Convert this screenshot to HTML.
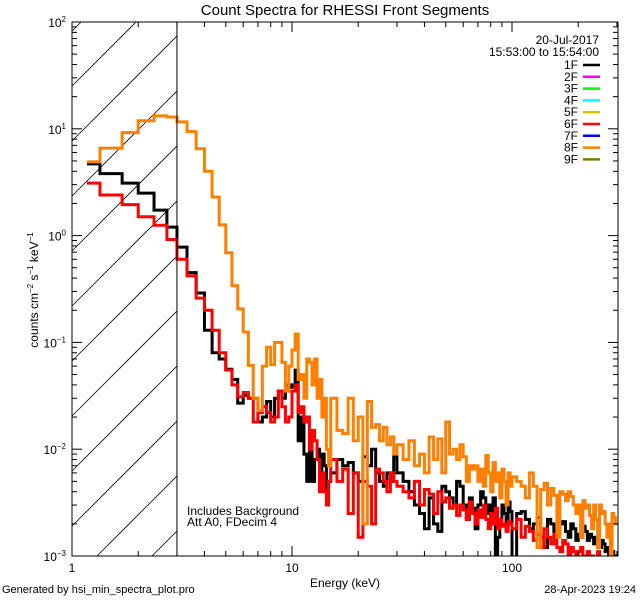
<!DOCTYPE html>
<html><head><meta charset="utf-8">
<style>
html,body{margin:0;padding:0;background:#fff;width:640px;height:600px;overflow:hidden;}
svg{display:block;font-family:"Liberation Sans",sans-serif;overflow:hidden;}
</style></head>
<body>
<svg id="chart" width="640" height="600" viewBox="0 0 640 600" xmlns="http://www.w3.org/2000/svg">
<rect x="0" y="0" width="640" height="600" fill="#fff"/>
<text x="345" y="15" font-size="15" text-anchor="middle">Count Spectra for RHESSI Front Segments</text>
<g id="hatch"></g>
<g id="series"></g>
<g id="axes"></g>
<text x="187" y="515" font-size="12">Includes Background</text>
<text x="187" y="526" font-size="12">Att A0, FDecim 4</text>
<text x="599" y="44" font-size="12" text-anchor="end">20-Jul-2017</text>
<text x="599" y="56" font-size="12" text-anchor="end">15:53:00 to 15:54:00</text>
<g id="legend"></g>
<text x="345" y="587" font-size="12" text-anchor="middle">Energy (keV)</text>
<text transform="translate(38,290) rotate(-90)" font-size="12" text-anchor="middle">counts cm<tspan font-size="8" dy="-5">−2</tspan><tspan dy="5"> s</tspan><tspan font-size="8" dy="-5">−1</tspan><tspan dy="5"> keV</tspan><tspan font-size="8" dy="-5">−1</tspan></text>
<text x="2" y="593" font-size="11">Generated by hsi_min_spectra_plot.pro</text>
<text x="636" y="593" font-size="11" text-anchor="end">28-Apr-2023 19:24</text>
</svg>
<script>
const lowEdges=[1.17,1.34,1.69,2.0,2.36,2.7,3.0];
const blackVals=[4.7,3.8,3.1,2.5,1.73,1.2,
0.78,0.45,0.29,0.13,0.08,0.07,0.056,0.045,0.027,0.032,0.03,0.03,0.018,0.02,0.028,0.02,0.03,0.035,0.03,0.04,0.038,
0.04,0.055,0.012,0.02,0.009,0.005,
0.012,0.005,0.008,0.01,0.006,0.009,0.007,0.004,0.005,
0.006,0.008,0.007,0.0075,0.006,0.005,0.0085,0.007,0.01,0.006,0.005,0.0045,0.006,0.005,0.0085,
0.006,0.005,0.004,0.003,0.0025,0.0018,0.0035,0.002,0.0017,0.0045,0.004,0.0035,0.003,0.005,0.0045,0.003,0.0022,0.0035,0.0028,0.0018,0.003,0.004,0.0035,0.0025,0.003,0.002,0.0035,0.0008,0.0015,0.0022,0.003,0.0025,0.0018,0.0032,0.0026,
0.0008,0.0025,0.0026,0.0022,0.0018,0.002,0.0023,0.0015,0.0012,0.0022,0.002,0.0017,0.0016,0.002,0.0021,0.0017,0.0015,0.002,0.0018,0.0014,0.0016,0.0015,0.0019,0.0017,0.0014,0.0016,0.0015,0.0013,0.0015,0.0014,0.0012,0.0014,0.0013,0.0011,0.0012,0.001,0.0009,0.0011,0.001,0.0008];
const redVals=[3.1,2.4,1.95,1.5,1.25,0.92,
0.6,0.42,0.26,0.2,0.13,0.08,0.055,0.04,0.031,0.034,0.03,0.018,0.022,0.025,0.022,0.018,0.02,0.035,0.025,0.018,0.02,0.035,0.04,0.022,0.025,0.018,0.02,0.01,0.015,0.012,0.008,0.004,0.006,0.004,0.003,0.005,
0.008,0.005,0.0065,0.0025,0.006,0.0015,0.005,0.0045,0.002,0.0065,0.006,0.005,0.004,0.006,0.005,
0.0045,0.004,0.0035,0.005,0.003,0.0042,0.0038,0.0025,0.004,0.0032,0.0035,0.0028,0.003,0.0024,0.003,0.0027,0.0022,0.0032,0.0025,0.002,0.0027,0.0023,0.003,0.0022,0.0018,0.0025,0.002,0.0028,0.0018,0.0022,0.0019,0.002,0.0017,0.0021,0.002,
0.0018,0.0022,0.0015,0.0019,0.0017,0.0014,0.0016,0.0012,0.0018,0.0015,0.0013,0.0016,0.0012,0.0011,0.0014,0.0013,0.001,0.0012,0.0011,0.0009,0.0011,0.0012,0.001,0.0009,0.0011,0.0008,0.001,0.0009,0.0008,0.0011,0.0009,0.0008,0.0007,0.0009,0.0008,0.0007,0.0009,0.0008,0.0007,0.0008];
const orangeVals=[4.9,6.6,9.2,11.9,13.2,12.9,
11.6,9.4,6.5,4.0,2.3,1.26,0.69,0.34,0.206,0.125,0.061,0.03,0.023,0.06,0.09,0.062,0.1,0.1,0.065,0.035,0.06,0.085,0.12,0.045,0.05,0.03,0.07,
0.065,0.04,0.07,0.03,0.045,0.02,0.03,0.01,0.007,
0.03,0.015,0.014,0.03,0.012,0.02,0.002,0.028,0.016,0.017,0.012,0.016,0.011,0.013,0.009,
0.011,0.008,0.012,0.007,0.009,0.006,0.013,0.008,0.0125,0.006,0.018,0.009,0.01,0.008,0.011,0.0085,0.005,0.007,0.0065,0.007,0.005,0.0065,0.0045,0.0087,0.006,0.004,0.0075,0.005,0.006,0.0035,0.0065,0.005,0.003,0.006,0.0045,
0.0055,0.005,0.0045,0.0035,0.006,0.0045,0.0012,0.0042,0.0048,0.003,0.0043,0.0037,0.0015,0.004,0.0038,0.0033,0.004,0.0036,0.003,0.0025,0.003,0.0015,0.0033,0.0028,0.003,0.0024,0.0018,0.003,0.0022,0.0012,0.003,0.0025,0.0026,0.002,0.0015,0.002,0.0008,0.0025,0.0023,0.002];
const xTickLabels=["1","10","100"];
const yTickExps=["2","1","0","−1","−2","−3"];
const legendLabels=["1F","2F","3F","4F","5F","6F","7F","8F","9F"];
const legendColors=["#000000","#ff00ff","#00ff00","#00ffff","#d4c800","#ff0000","#0000ff","#ff8000","#808000"];

const NS="http://www.w3.org/2000/svg";
const L=72,R=618,T=22,B=556;
const XMIN=1,XMAX=Math.pow(10,(R-L)/220);
const YMIN=-3,YMAX=2;
function xs(e){return L+(Math.log10(e)-Math.log10(XMIN))/(Math.log10(XMAX)-Math.log10(XMIN))*(R-L);}
function ys(v){return B-(Math.log10(v)-YMIN)/(YMAX-YMIN)*(B-T);}
function mk(tag,attrs,parent){const el=document.createElementNS(NS,tag);for(const k in attrs)el.setAttribute(k,attrs[k]);parent.appendChild(el);return el;}

const edges=lowEdges.slice();
for(let i=1;i<=36;i++)edges.push(3+i/3);
for(let e=16;e<=30;e++)edges.push(e);
for(let e=32;e<=100;e+=2)edges.push(e);
for(let e=105;e<=300;e+=5)edges.push(e);
edges[edges.length-1]=XMAX;

const svg=document.getElementById('chart');
const defs=mk('defs',{},svg);
const cp=mk('clipPath',{id:'plotclip'},defs);
mk('rect',{x:L,y:T,width:R-L,height:B-T},cp);

// hatch lines, clipped analytically to region x in [L, X3], y in [T, B]; y = y0 - (x - L)
const hatch=document.getElementById('hatch');
const X3=xs(3);
for(let k=-2;k<14;k++){
  const y0=86+55*k;
  let xa=Math.max(L, L+(y0-B));
  let xb=Math.min(X3, L+(y0-T));
  if(xb<=xa)continue;
  const ln=mk('line',{x1:xa,y1:y0-(xa-L),x2:xb,y2:y0-(xb-L),stroke:'#000','stroke-width':0.8},hatch);
  
  
}
const th=mk('line',{x1:X3,y1:T,x2:X3,y2:B,stroke:'#000','stroke-width':1},svg);



const sg=document.getElementById('series');
sg.setAttribute('clip-path','url(#plotclip)');
function drawSeries(vals,color,name){
  const n=Math.min(vals.length,edges.length-1);
  let d='';
  for(let i=0;i<n;i++){
    const v=Math.max(vals[i],Math.pow(10,YMIN-0.02));
    const y=ys(v);
    d+=(i===0?'M':'L')+xs(edges[i]).toFixed(2)+','+y.toFixed(2)+'L'+xs(edges[i+1]).toFixed(2)+','+y.toFixed(2);
  }
  const p=mk('path',{d:d,fill:'none',stroke:color,'stroke-width':3,'stroke-linejoin':'miter'},sg);
  
  
}
drawSeries(blackVals,'#000000','series-1f');
drawSeries(redVals,'#ff0000','series-6f');
drawSeries(orangeVals,'#ff8000','series-8f');

const ax=document.getElementById('axes');
const fr=mk('rect',{x:L,y:T,width:R-L,height:B-T,fill:'none',stroke:'#000','stroke-width':1},ax);


for(let dec=0;dec<3;dec++){
  for(let m=1;m<10;m++){
    const e=m*Math.pow(10,dec);
    if(e>XMAX)break;
    const x=xs(e);const len=(m===1)?10:5;
    mk('line',{x1:x,y1:B,x2:x,y2:B-len,stroke:'#000'},ax);
    mk('line',{x1:x,y1:T,x2:x,y2:T+len,stroke:'#000'},ax);
  }
}
xTickLabels.forEach((lab,i)=>{
  const t=mk('text',{x:xs(Math.pow(10,i)),y:B+16,'font-size':12,'text-anchor':'middle'},ax);
  t.textContent=lab;
  
  
});
for(let ex=YMIN;ex<YMAX;ex++){
  for(let m=1;m<10;m++){
    const y=ys(m*Math.pow(10,ex));const len=(m===1)?10:5;
    mk('line',{x1:L,y1:y,x2:L+len,y2:y,stroke:'#000'},ax);
    mk('line',{x1:R,y1:y,x2:R-len,y2:y,stroke:'#000'},ax);
  }
}
yTickExps.forEach((ex,i)=>{
  const y=ys(Math.pow(10,YMAX-i));
  const t=mk('text',{x:L-6,y:y+5,'font-size':12,'text-anchor':'end'},ax);
  
  
  const a=mk('tspan',{},t);a.textContent='10';
  const b=mk('tspan',{'font-size':8,dy:-5},t);b.textContent=ex;
});

const lg=document.getElementById('legend');
legendLabels.forEach((lab,i)=>{
  const y=65+i*11.8;
  const g=mk('g',{},lg);
  
  
  const t=mk('text',{x:578,y:y+4,'font-size':12,'text-anchor':'end'},g);
  t.textContent=lab;
  mk('line',{x1:583,y1:y,x2:600,y2:y,stroke:legendColors[i],'stroke-width':2.5},g);
});
</script>
</body></html>
